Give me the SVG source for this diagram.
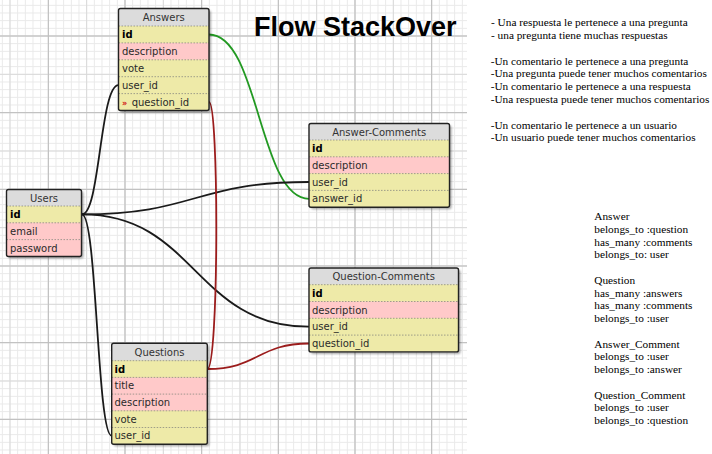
<svg xmlns="http://www.w3.org/2000/svg" width="712" height="454" viewBox="0 0 712 454">
<style>
.hdr{fill:#dcdcdc}
.y{fill:#eeeaa8}
.p{fill:#ffc9c9}
.frame{fill:none;stroke:#222;stroke-width:1.4}
.sep{stroke:#8a8a80;stroke-width:0.8;stroke-dasharray:1.5 1.5}
.t{font-family:"DejaVu Sans",Verdana,sans-serif;font-size:10px;fill:#2a2a2a}
.h{font-family:"DejaVu Sans",Verdana,sans-serif;font-size:10px;fill:#333;text-anchor:middle}
.b{font-weight:bold;fill:#000}
.c{fill:none;stroke-width:1.8}
.note{font-family:"Liberation Serif","Times New Roman",serif;font-size:11.3px;fill:#000}
</style>
<defs>
<pattern id="gf" patternUnits="userSpaceOnUse" x="1.833" y="4.833" width="7.6667" height="7.6667">
<rect x="0" y="0" width="1" height="7.6667" fill="#e9e9e9"/>
<rect x="0" y="0" width="7.6667" height="1" fill="#e9e9e9"/>
</pattern>
<pattern id="gm" patternUnits="userSpaceOnUse" x="9.5" y="-2.83" width="38.333" height="38.333">
<rect x="0" y="0" width="1" height="38.333" fill="#d9d9d9"/>
<rect x="0" y="0" width="38.333" height="1" fill="#d9d9d9"/>
</pattern>
<pattern id="gM" patternUnits="userSpaceOnUse" x="47.833" y="35.5" width="76.667" height="76.667">
<rect x="0" y="0" width="1" height="76.667" fill="#bdbdbd"/>
<rect x="0" y="0" width="76.667" height="1" fill="#bdbdbd"/>
</pattern>
<filter id="sh" x="-10%" y="-10%" width="130%" height="130%">
<feDropShadow dx="2" dy="2" stdDeviation="1.3" flood-color="#000" flood-opacity="0.35"/>
</filter>
</defs>
<rect x="0" y="0" width="712" height="454" fill="#fff"/>
<g id="grid">
<rect x="0" y="0" width="467" height="454" fill="url(#gf)"/>
<rect x="0" y="0" width="467" height="454" fill="url(#gm)"/>
<rect x="0" y="0" width="467" height="454" fill="url(#gM)"/>
</g>
<g id="connectors">
<path class="c" stroke="#229922" d="M209,34.5 C259,34.5 259,198.8 309,198.8"/>
<path class="c" stroke="#1a1a1a" d="M82,214.4 C100,214.4 100,85.2 118.5,85.2"/>
<path class="c" stroke="#1a1a1a" d="M82,214.4 C195,214.4 195,182 309,182"/>
<path class="c" stroke="#1a1a1a" d="M82,214.4 C195,214.4 195,326.7 309,326.7"/>
<path class="c" stroke="#1a1a1a" d="M82,214.4 C97,214.4 97,435.8 111.7,435.8"/>
<path class="c" stroke="#9b1c1c" d="M209,102 C219,102 219,369 207.3,369"/>
<path class="c" stroke="#9b1c1c" d="M207.3,369 C258,369 258,343.5 309,343.5"/>
</g>
<g id="Answers">
<g filter="url(#sh)"><rect x="118.5" y="8.5" width="90.5" height="102" rx="2" fill="#eeeaa8"/></g>
<rect class="hdr" x="118.5" y="8.5" width="90.5" height="17.5"/>
<rect class="y" x="118.5" y="26" width="90.5" height="16.9"/>
<rect class="p" x="118.5" y="42.9" width="90.5" height="16.9"/>
<rect class="y" x="118.5" y="59.8" width="90.5" height="50.7"/>
<line class="sep" x1="118.5" y1="26" x2="209" y2="26"/>
<line class="sep" x1="118.5" y1="42.9" x2="209" y2="42.9"/>
<line class="sep" x1="118.5" y1="59.8" x2="209" y2="59.8"/>
<line class="sep" x1="118.5" y1="76.7" x2="209" y2="76.7"/>
<line class="sep" x1="118.5" y1="93.6" x2="209" y2="93.6"/>
<rect class="frame" x="118.5" y="8.5" width="90.5" height="102" rx="2"/>
<text class="h" x="163.7" y="21">Answers</text>
<text class="t b" x="122" y="38">id</text>
<text class="t" x="122" y="54.9">description</text>
<text class="t" x="122" y="71.8">vote</text>
<text class="t" x="122" y="88.7">user_id</text>
<text class="t" x="122" y="105.6"><tspan fill="#d01010" font-weight="bold" font-size="8">»</tspan><tspan x="131.7">question_id</tspan></text>
</g>
<g id="Users">
<g filter="url(#sh)"><rect x="6.5" y="189.5" width="75" height="67" rx="2" fill="#ffc9c9"/></g>
<rect class="hdr" x="6.5" y="189.5" width="75" height="16.5"/>
<rect class="y" x="6.5" y="206" width="75" height="16.8"/>
<rect class="p" x="6.5" y="222.8" width="75" height="33.7"/>
<line class="sep" x1="6.5" y1="206" x2="81.5" y2="206"/>
<line class="sep" x1="6.5" y1="222.8" x2="81.5" y2="222.8"/>
<line class="sep" x1="6.5" y1="239.6" x2="81.5" y2="239.6"/>
<rect class="frame" x="6.5" y="189.5" width="75" height="67" rx="2"/>
<text class="h" x="44" y="201.5">Users</text>
<text class="t b" x="10" y="218">id</text>
<text class="t" x="10" y="234.8">email</text>
<text class="t" x="10" y="251.6">password</text>
</g>
<g id="Answer-Comments">
<g filter="url(#sh)"><rect x="309" y="123.5" width="140.5" height="83.7" rx="2" fill="#eeeaa8"/></g>
<rect class="hdr" x="309" y="123.5" width="140.5" height="16.5"/>
<rect class="y" x="309" y="140" width="140.5" height="16.8"/>
<rect class="p" x="309" y="156.8" width="140.5" height="16.8"/>
<rect class="y" x="309" y="173.6" width="140.5" height="33.6"/>
<line class="sep" x1="309" y1="140" x2="449.5" y2="140"/>
<line class="sep" x1="309" y1="156.8" x2="449.5" y2="156.8"/>
<line class="sep" x1="309" y1="173.6" x2="449.5" y2="173.6"/>
<line class="sep" x1="309" y1="190.4" x2="449.5" y2="190.4"/>
<rect class="frame" x="309" y="123.5" width="140.5" height="83.7" rx="2"/>
<text class="h" x="379.2" y="135.5">Answer-Comments</text>
<text class="t b" x="312" y="152">id</text>
<text class="t" x="312" y="168.8">description</text>
<text class="t" x="312" y="185.6">user_id</text>
<text class="t" x="312" y="202.4">answer_id</text>
</g>
<g id="Question-Comments">
<g filter="url(#sh)"><rect x="309" y="268" width="149.5" height="83.9" rx="2" fill="#eeeaa8"/></g>
<rect class="hdr" x="309" y="268" width="149.5" height="16.7"/>
<rect class="y" x="309" y="284.7" width="149.5" height="16.8"/>
<rect class="p" x="309" y="301.5" width="149.5" height="16.8"/>
<rect class="y" x="309" y="318.3" width="149.5" height="33.6"/>
<line class="sep" x1="309" y1="284.7" x2="458.5" y2="284.7"/>
<line class="sep" x1="309" y1="301.5" x2="458.5" y2="301.5"/>
<line class="sep" x1="309" y1="318.3" x2="458.5" y2="318.3"/>
<line class="sep" x1="309" y1="335.1" x2="458.5" y2="335.1"/>
<rect class="frame" x="309" y="268" width="149.5" height="83.9" rx="2"/>
<text class="h" x="383.7" y="280.2">Question-Comments</text>
<text class="t b" x="312" y="296.7">id</text>
<text class="t" x="312" y="313.5">description</text>
<text class="t" x="312" y="330.3">user_id</text>
<text class="t" x="312" y="347.1">question_id</text>
</g>
<g id="Questions">
<g filter="url(#sh)"><rect x="111.7" y="343.3" width="95.6" height="100.9" rx="2" fill="#eeeaa8"/></g>
<rect class="hdr" x="111.7" y="343.3" width="95.6" height="17.4"/>
<rect class="y" x="111.7" y="360.7" width="95.6" height="16.7"/>
<rect class="p" x="111.7" y="377.4" width="95.6" height="33.4"/>
<rect class="y" x="111.7" y="410.8" width="95.6" height="33.4"/>
<line class="sep" x1="111.7" y1="360.7" x2="207.3" y2="360.7"/>
<line class="sep" x1="111.7" y1="377.4" x2="207.3" y2="377.4"/>
<line class="sep" x1="111.7" y1="394.1" x2="207.3" y2="394.1"/>
<line class="sep" x1="111.7" y1="410.8" x2="207.3" y2="410.8"/>
<line class="sep" x1="111.7" y1="427.5" x2="207.3" y2="427.5"/>
<rect class="frame" x="111.7" y="343.3" width="95.6" height="100.9" rx="2"/>
<text class="h" x="159.5" y="355.7">Questions</text>
<text class="t b" x="114.5" y="372.6">id</text>
<text class="t" x="114.5" y="389.3">title</text>
<text class="t" x="114.5" y="406">description</text>
<text class="t" x="114.5" y="422.7">vote</text>
<text class="t" x="114.5" y="439.4">user_id</text>
</g>
<g id="title">
<text x="254" y="36" font-family="'Liberation Sans',Arial,sans-serif" font-weight="bold" font-size="27" fill="#000">Flow StackOver</text>
</g>
<g id="notes-top" class="note">
<text class="note" x="491" y="26.3">- Una respuesta le pertenece a una pregunta</text>
<text class="note" x="491" y="38.6">- una pregunta tiene muchas respuestas</text>
<text class="note" x="490.7" y="64.6">-Un comentario le pertenece a una pregunta</text>
<text class="note" x="490.7" y="77.4">-Una pregunta puede tener muchos comentarios</text>
<text class="note" x="490.7" y="90.2">-Un comentario le pertenece a una respuesta</text>
<text class="note" x="490.7" y="103">-Una respuesta puede tener muchos comentarios</text>
<text class="note" x="490.7" y="128.5">-Un comentario le pertenece a un usuario</text>
<text class="note" x="490.7" y="141.2">-Un usuario puede tener muchos comentarios</text>
</g>
<g id="notes-models">
<text class="note" x="594.3" y="220">Answer</text>
<text class="note" x="594.3" y="232.75">belongs_to :question</text>
<text class="note" x="594.3" y="245.5">has_many :comments</text>
<text class="note" x="594.3" y="258.25">belongs_to: user</text>
<text class="note" x="594.3" y="283.75">Question</text>
<text class="note" x="594.3" y="296.5">has_many :answers</text>
<text class="note" x="594.3" y="309.25">has_many :comments</text>
<text class="note" x="594.3" y="322">belongs_to :user</text>
<text class="note" x="594.3" y="347.5">Answer_Comment</text>
<text class="note" x="594.3" y="360.25">belongs_to :user</text>
<text class="note" x="594.3" y="373">belongs_to :answer</text>
<text class="note" x="594.3" y="398.5">Question_Comment</text>
<text class="note" x="594.3" y="411.25">belongs_to :user</text>
<text class="note" x="594.3" y="424">belongs_to :question</text>
</g>
</svg>
